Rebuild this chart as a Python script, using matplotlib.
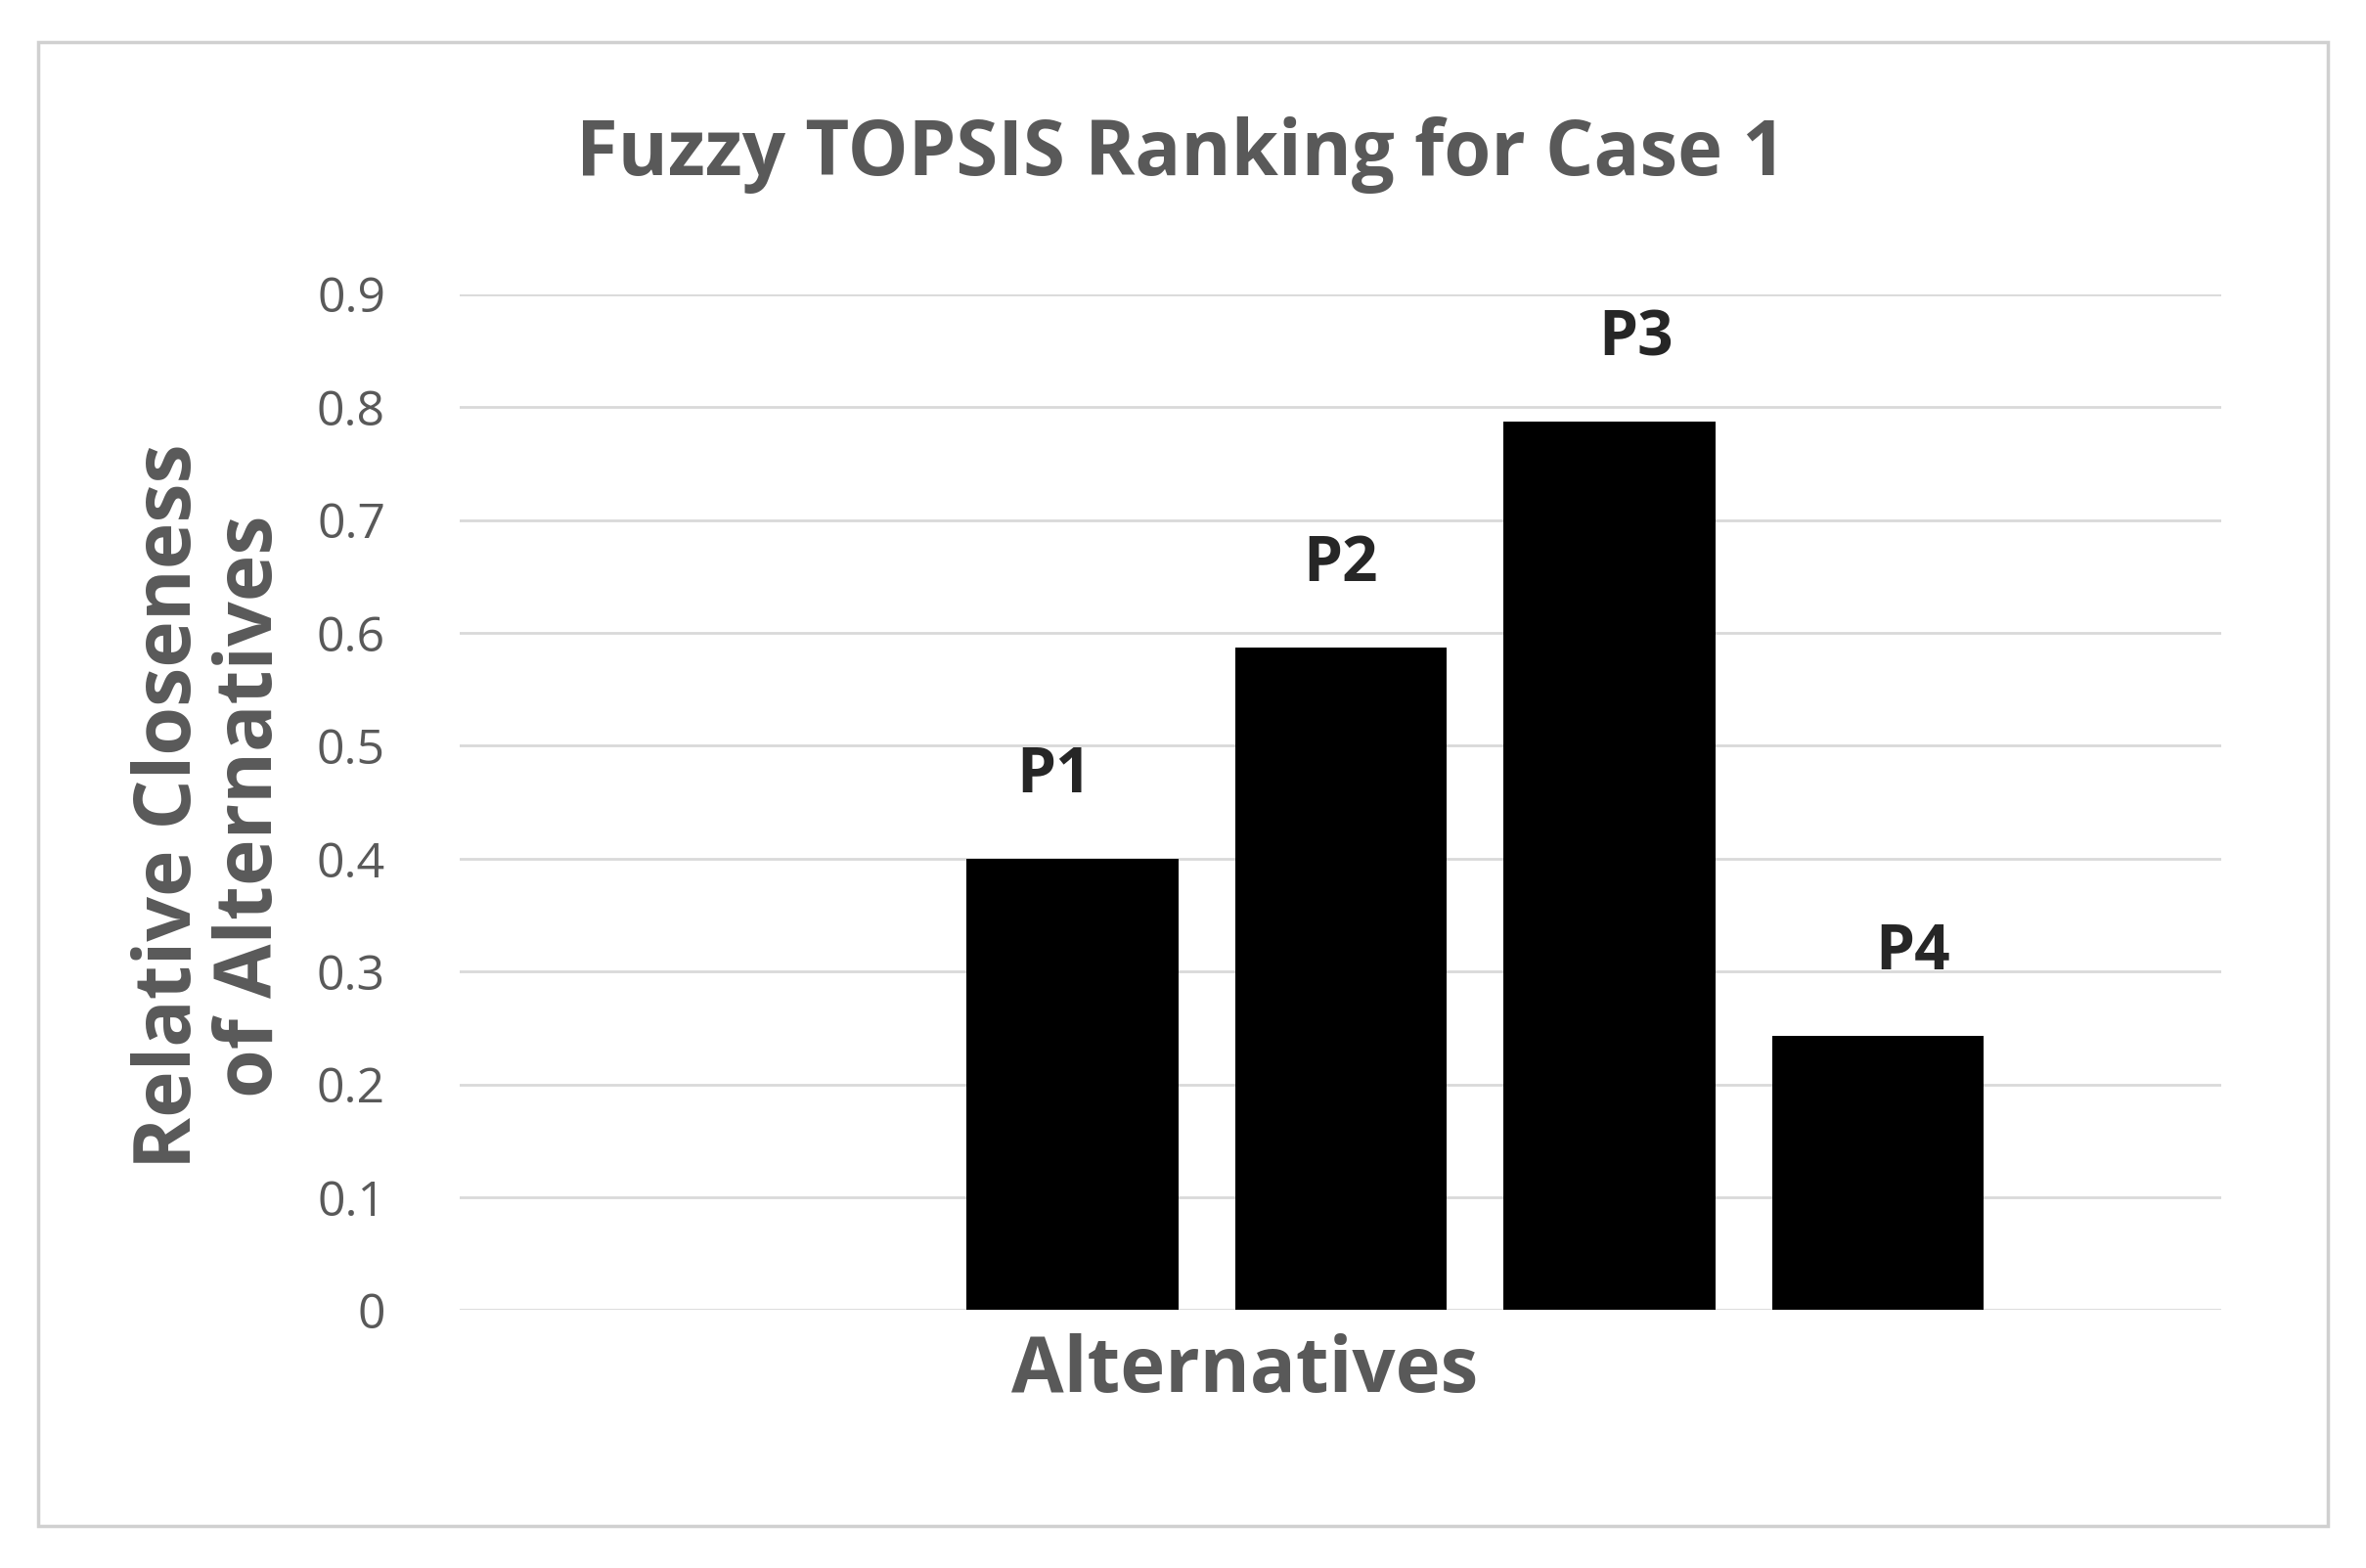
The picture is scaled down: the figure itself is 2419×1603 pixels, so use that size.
import matplotlib
matplotlib.use("Agg")
import matplotlib.pyplot as plt
from matplotlib.patches import Rectangle

# ── Data ──────────────────────────────────────────────────────────────────────
alternatives = ["P1", "P2", "P3", "P4"]
closeness = [0.40, 0.587, 0.787, 0.243]
y_ticks = [0, 0.1, 0.2, 0.3, 0.4, 0.5, 0.6, 0.7, 0.8, 0.9]
y_tick_labels = ["0", "0.1", "0.2", "0.3", "0.4", "0.5", "0.6", "0.7", "0.8", "0.9"]

GREY = "#595959"
plt.rcParams["font.family"] = ["Open Sans", "DejaVu Sans"]

fig = plt.figure(figsize=(24.19, 16.03), dpi=100)
fig.patches.append(Rectangle((0.016, 0.027), 0.968, 0.946, transform=fig.transFigure,
                             fill=False, edgecolor="#d0d0d0", linewidth=2.5))

ax = fig.add_axes([0.1945, 0.1644, 0.7445, 0.648])
xs = list(range(len(alternatives)))
ax.bar(xs, closeness, width=0.79, color="black", zorder=3)
label_shift = [-0.07, 0.0, 0.1, 0.13]  # labels sit slightly off-centre in the original
for x, v, name, dx in zip(xs, closeness, alternatives, label_shift):
    ax.text(x + dx, v + 0.045, name, ha="center", va="bottom",
            fontsize=46, fontweight="bold", color="#262626")

ax.set_xlim(-2.28, 4.28)
ax.set_ylim(0, 0.9)
ax.set_yticks(y_ticks)
ax.set_yticklabels(y_tick_labels, fontsize=36, color=GREY)
ax.set_xticks([])
ax.grid(axis="y", color="#d9d9d9", linewidth=2, zorder=0)
ax.tick_params(axis="y", length=0, pad=55)
for s in ax.spines.values():
    s.set_visible(False)

fig.text(0.499, 0.901, "Fuzzy TOPSIS Ranking for Case 1", ha="center", va="center",
         fontsize=56, fontweight="bold", color=GREY)
fig.text(0.526, 0.125, "Alternatives", ha="center", va="center",
         fontsize=56, fontweight="bold", color=GREY)
fig.text(0.089, 0.486, "Relative Closeness\nof Alternatives", ha="center", va="center",
         rotation=90, fontsize=58, fontweight="bold", color=GREY, linespacing=1.05)

fig.savefig("out.png", dpi=100, facecolor="white")
